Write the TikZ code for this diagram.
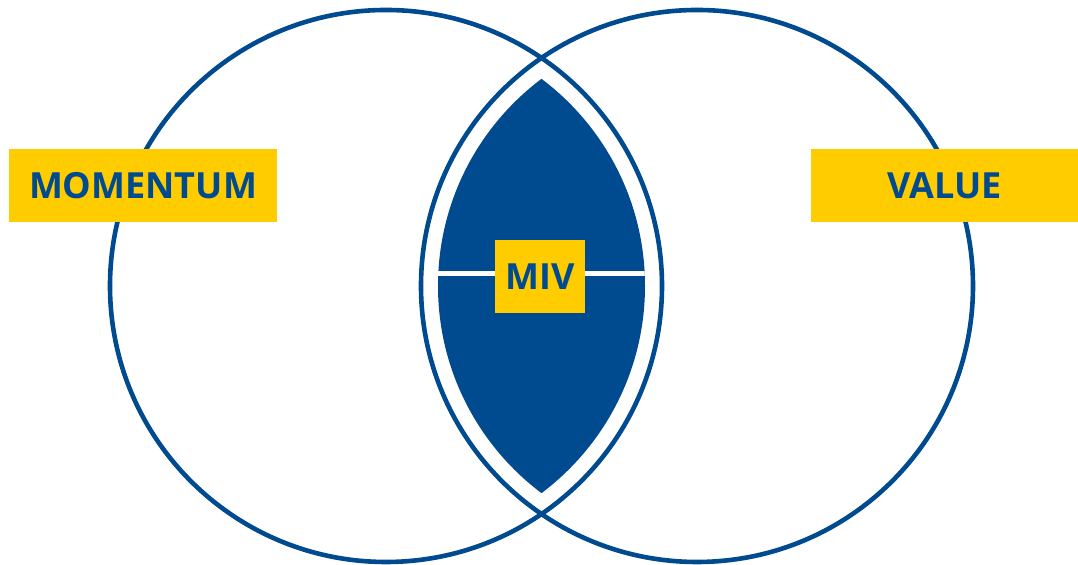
\documentclass[tikz,border=0pt]{standalone}
\usepackage{fontspec}
\setmainfont{Open Sans}
\usepackage{tikz}
\usetikzlibrary{positioning}
\definecolor{mvblue}{HTML}{004A8F}
\definecolor{mvyellow}{HTML}{FFCC00}

\begin{document}
\begin{tikzpicture}[
  x=0.5pt, y=0.5pt,
  ring/.style={draw=mvblue, line width=2.3pt},
  tag/.style={fill=mvyellow, text=mvblue, font=\fontsize{18}{22}\selectfont\bfseries,
              minimum height=36.5pt, inner sep=0pt, anchor=center},
]
  \useasboundingbox (0,0) rectangle (1078,565);
  % ---- overlap: filled lens with white divider --------------------------------
  \begin{scope}
    \clip (386,279) circle (259);
    \fill[mvblue] (697,279) circle (259);
    \draw[white, line width=2.2pt] (400,291.5) -- (700,291.5);
  \end{scope}

  % ---- the two sets ------------------------------------------------------------
  \draw[ring] (386,279) circle (276);
  \draw[ring] (697,279) circle (276);

  % ---- labels -------------------------------------------------------------------
  \node[tag, minimum width=134pt] (mom) at (143,379.5) {MOMENTUM};
  \node[tag, minimum width=133.5pt] (val) at (944.5,379.5) {VALUE};
  \node[tag, minimum width=45pt] (miv) at (540,288.5) {MIV};
\end{tikzpicture}
\end{document}
